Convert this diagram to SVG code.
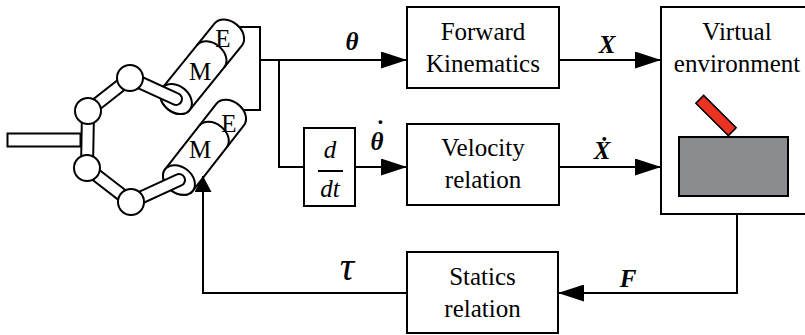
<svg xmlns="http://www.w3.org/2000/svg" xmlns:xlink="http://www.w3.org/1999/xlink" width="805" height="335" viewBox="0 0 805 335">
  <style>
    .ln { fill: none; stroke: #000; stroke-width: 2; }
    .box { fill: #fff; stroke: #000; stroke-width: 2; }
    .lbl { font-family: 'Liberation Serif', 'DejaVu Serif', 'Times New Roman', serif; font-size: 25px; fill: #000; text-anchor: middle; }
    .sym { font-family: 'Liberation Serif', 'DejaVu Serif', 'Times New Roman', serif; font-size: 25px; font-weight: bold; font-style: italic; fill: #000; text-anchor: middle; }
    .cyl { fill: #fff; stroke: #000; stroke-width: 2; }
    .linkO { fill: none; stroke: #000; stroke-width: 14; stroke-linecap: round; }
    .linkI { fill: none; stroke: #fff; stroke-width: 10; stroke-linecap: round; }
    .joint { fill: #fff; stroke: #000; stroke-width: 2; }
  </style>
  <defs>
    <!-- actuator cylinder: motor (M) + encoder (E), axis along +x, bottom face at origin -->
    <g id="cyl">
      <path class="cyl" d="M0,-17.5 L83,-17.5 A13,17.5 0 0 1 83,17.5 L0,17.5 A13,17.5 0 0 1 0,-17.5 Z"/>
      <ellipse class="cyl" cx="0" cy="0" rx="13" ry="17.5"/>
      <path class="ln" d="M55,-17.5 A13,17.5 0 0 1 55,17.5"/>
    </g>
    <marker id="ah" markerUnits="userSpaceOnUse" markerWidth="26" markerHeight="17" refX="26" refY="8.5" orient="auto" viewBox="0 0 26 17">
      <path d="M0,0 L26,8.5 L0,17 Z" fill="#000"/>
    </marker>
    <marker id="ahs" markerUnits="userSpaceOnUse" markerWidth="16" markerHeight="17" refX="16" refY="8.5" orient="auto" viewBox="0 0 16 17">
      <path d="M0,0 L16,8.5 L0,17 Z" fill="#000"/>
    </marker>
  </defs>

  <!-- robot arm -->
  <g id="robot">
    <rect class="box" x="7.5" y="133.5" width="73" height="13"/>
    <use xlink:href="#cyl" transform="translate(176,99) rotate(-51)"/>
    <use xlink:href="#cyl" transform="translate(179,180) rotate(-52)"/>
    <path class="linkO" d="M88,111 L87,168 M88,111 L130,78 L176,99 M87,168 L131,202 L179,180"/>
    <path class="linkI" d="M88,111 L87,168 M88,111 L130,78 L176,99 M87,168 L131,202 L179,180"/>
    <circle class="joint" cx="88" cy="111" r="13"/>
    <circle class="joint" cx="130" cy="78" r="13"/>
    <circle class="joint" cx="87" cy="168" r="13"/>
    <circle class="joint" cx="131" cy="202" r="13"/>
    <text class="lbl" x="223" y="47" font-size="23">E</text>
    <text class="lbl" x="200" y="80" font-size="23">M</text>
    <text class="lbl" x="229" y="132" font-size="23">E</text>
    <text class="lbl" x="200" y="158" font-size="23">M</text>
  </g>

  <g id="forward-kinematics">
    <rect class="box" x="407" y="7" width="152" height="81"/>
    <text class="lbl" x="483" y="40">Forward</text>
    <text class="lbl" x="483" y="72">Kinematics</text>
  </g>

  <g id="derivative">
    <rect class="box" x="304" y="128" width="51" height="78"/>
    <text class="lbl" x="330" y="158" font-style="italic" font-size="22">d</text>
    <line class="ln" x1="318" y1="171" x2="343" y2="171" stroke-width="1.5"/>
    <text class="lbl" x="330" y="197" font-style="italic" font-size="22">dt</text>
  </g>

  <g id="velocity-relation">
    <rect class="box" x="407" y="124" width="152" height="81"/>
    <text class="lbl" x="483" y="156">Velocity</text>
    <text class="lbl" x="483" y="188">relation</text>
  </g>

  <g id="statics-relation">
    <rect class="box" x="407" y="252" width="151" height="81"/>
    <text class="lbl" x="482.5" y="285">Statics</text>
    <text class="lbl" x="482.5" y="317">relation</text>
  </g>

  <g id="virtual-environment">
    <rect class="box" x="661" y="7" width="150" height="207"/>
    <text class="lbl" x="737" y="40">Virtual</text>
    <text class="lbl" x="737" y="72">environment</text>
    <rect x="679" y="137" width="109" height="59" fill="#8b8c8f" stroke="#000" stroke-width="2"/>
    <rect x="-23" y="-5.5" width="46" height="11" fill="#ea3323" stroke="#000" stroke-width="1.5" transform="translate(716,115.5) rotate(45)"/>
  </g>

  <!-- signal lines -->
  <g id="connectors">
    <path class="ln" d="M239,27 H260 V110 H243"/>
    <path class="ln" d="M260,60 H407" marker-end="url(#ah)"/>
    <path class="ln" d="M279,60 V167 H304"/>
    <path class="ln" d="M355,167 H407" marker-end="url(#ah)"/>
    <path class="ln" d="M559,60 H661" marker-end="url(#ah)"/>
    <path class="ln" d="M559,167 H661" marker-end="url(#ah)"/>
    <path class="ln" d="M737,214 V293 H558" marker-end="url(#ah)"/>
    <path class="ln" d="M407,293 H203 V176" marker-end="url(#ahs)"/>
  </g>

  <!-- signal labels -->
  <g id="labels">
    <text class="sym" x="352" y="50" font-size="26">θ</text>
    <text class="sym" font-size="26"><tspan x="377" y="150">θ</tspan><tspan x="379" y="138">˙</tspan></text>
    <text class="sym" x="607" y="53">X</text>
    <text class="sym" x="602" y="159">X&#x307;</text>
    <text class="sym" x="628" y="287" font-size="30">F</text>
    <text x="347" y="280" font-family="'Liberation Serif', 'DejaVu Serif', serif" font-style="italic" font-size="40" text-anchor="middle">τ</text>
  </g>
</svg>
